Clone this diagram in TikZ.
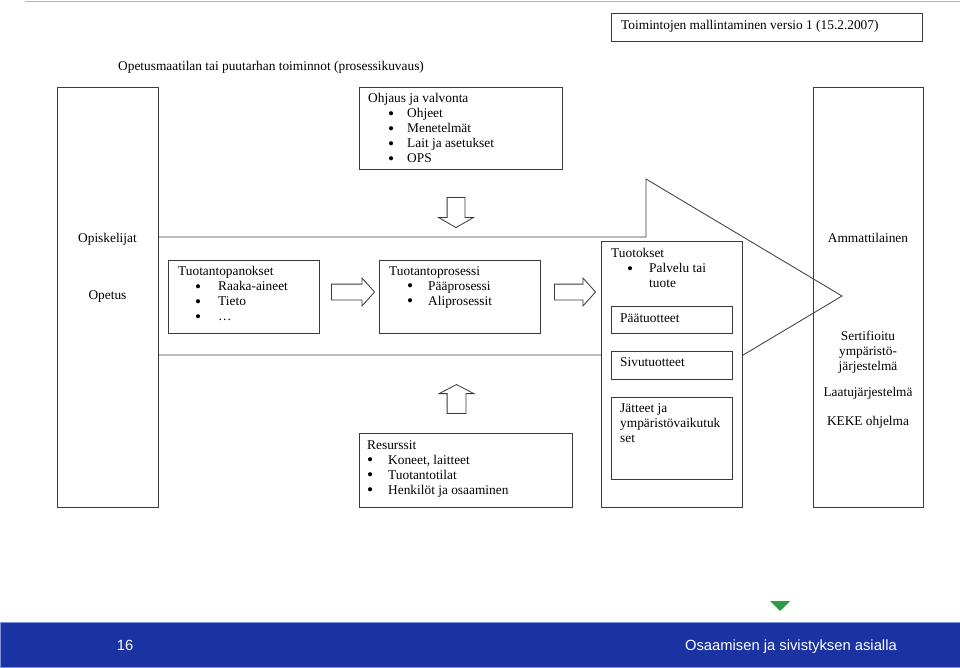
\documentclass[tikz,border=0pt]{standalone}
\usepackage{fontspec}
\setmainfont{Liberation Serif}
\newfontfamily\footfont{Liberation Sans}
\usetikzlibrary{positioning,shapes.arrows}
\definecolor{edge}{HTML}{3A3A3A}
\definecolor{bandblue}{HTML}{1A32A2}
\definecolor{bandline}{HTML}{7F92DA}
\definecolor{greenmark}{HTML}{2E9A44}
\definecolor{rulegrey}{HTML}{B4B4B4}
\newdimen\px \px=0.03cm
% bullet line: gap before bullet, bullet-to-text width, text
\newcommand{\itm}[3]{\hspace*{#1\px}\makebox[#2\px][l]{\raisebox{-0.3ex}[0pt][0pt]{\scalebox{1.3}{\textbullet}}}#3}
\tikzset{
  box/.style={draw=edge,fill=white,line width=0.7pt,inner sep=0pt,anchor=north west},
  txt/.style={font=\fontsize{11.4}{12.8}\selectfont,inner sep=0pt,anchor=base west,align=left},
  list/.style={txt,anchor=north west},
  mid/.style={txt,anchor=base,align=center},
  blk/.style={single arrow,draw=edge,fill=white,line width=0.7pt,inner xsep=0pt},
}

\begin{document}
\begin{tikzpicture}[x=0.03cm,y=-0.03cm]
\useasboundingbox (0,0) rectangle (960,667);
\draw[rulegrey,line width=0.8pt] (25,1.5) -- (960,1.5);
\node[box,minimum width=311\px,minimum height=28\px] (title) at (611,13) {};
\node[txt] (titletxt) at (621,29) {Toimintojen mallintaminen versio 1 (15.2.2007)};
\node[txt] (heading) at (118,70) {Opetusmaatilan tai puutarhan toiminnot (prosessikuvaus)};
% the big process arrow
\draw[edge,line width=0.7pt] (158,237) -- (646,237) -- (646,179) -- (842,296)
  -- (646,413) -- (646,355) -- (158,355);
\node[box,minimum width=101\px,minimum height=420\px] (opisk) at (57,87) {};
\node[mid] (opisktxt) at (107.5,242) {Opiskelijat};
\node[mid] (opetus) at (107.5,299) {Opetus};
\node[box,fill=none,minimum width=110\px,minimum height=420\px] (ammat) at (813,87) {};
\node[mid] (ammattxt) at (868,242) {Ammattilainen};
\node[mid,anchor=north] (sert) at (868,331) {Sertifioitu\\ympäristö-\\järjestelmä};
\node[mid] (laatu) at (868,396) {Laatujärjestelmä};
\node[mid] (keke) at (868,425) {KEKE ohjelma};
\node[box,minimum width=203\px,minimum height=82\px] (ohjaus) at (359,87) {};
\node[list] (ohjaustxt) at (368,93) {Ohjaus ja valvonta\\
  \itm{20}{19}{Ohjeet}\\\itm{20}{19}{Menetelmät}\\
  \itm{20}{19}{Lait ja asetukset}\\\itm{20}{19}{OPS}};
\node[box,minimum width=151\px,minimum height=73\px] (panokset) at (168,260) {};
\node[list] (panoksettxt) at (178,266) {Tuotantopanokset\\
  \itm{17}{23}{Raaka-aineet}\\\itm{17}{23}{Tieto}\\\itm{17}{23}{\dots}};
\node[box,minimum width=161\px,minimum height=73\px] (prosessi) at (379,260) {};
\node[list] (prosessitxt) at (389,266) {Tuotantoprosessi\\
  \itm{18}{21}{Pääprosessi}\\\itm{18}{21}{Aliprosessit}};
\node[box,minimum width=141\px,minimum height=266\px] (tuotokset) at (601,241) {};
\node[list] (tuotoksettxt) at (611,248) {Tuotokset\\
  \itm{16}{22}{Palvelu tai}\\\hspace*{38\px}tuote};
\node[box,minimum width=121\px,minimum height=27\px] (paatuot) at (611,306) {};
\node[txt] (paatuottxt) at (620,322) {Päätuotteet};
\node[box,minimum width=121\px,minimum height=28\px] (sivutuot) at (611,351) {};
\node[txt] (sivutuottxt) at (620,366) {Sivutuotteet};
\node[box,minimum width=121\px,minimum height=82\px] (jatteet) at (611,397) {};
\node[list] (jatteettxt) at (620,403) {Jätteet ja\\ympäristövaikutuk\\set};
\node[box,minimum width=213\px,minimum height=74\px] (resurssit) at (359,433) {};
\node[list] (resurssittxt) at (367,440) {Resurssit\\
  \itm{0}{21}{Koneet, laitteet}\\\itm{0}{21}{Tuotantotilat}\\
  \itm{0}{21}{Henkilöt ja osaaminen}};
% block arrows
\node[blk,minimum height=30\px,inner ysep=8.5\px,single arrow head extend=8.5\px,
  single arrow tip angle=120,rotate=-90] (ohjnuoli) at (456,210) {};
\node[blk,minimum height=43\px,inner ysep=7.5\px,single arrow head extend=6\px,
  single arrow tip angle=96] (nuoli1) at (349.5,292) {};
\node[blk,minimum height=41\px,inner ysep=7.5\px,single arrow head extend=6\px,
  single arrow tip angle=96] (nuoli2) at (571.5,292) {};
\node[blk,minimum height=29\px,inner ysep=9\px,single arrow head extend=8\px,
  single arrow tip angle=125,rotate=90] (resnuoli) at (456.5,401.5) {};
% footer
\fill[greenmark] (770,601) -- (790,601) -- (780,611) -- cycle;
\node[box,fill=bandblue,draw=bandline,line width=0.8pt,minimum width=960\px,minimum height=45\px]
  (footer) at (0,621.5) {};
\node[font=\footfont\fontsize{12.6}{14}\selectfont,text=white,inner sep=0pt,anchor=base]
  (sivu) at (125,650) {16};
\node[font=\footfont\fontsize{12.6}{14}\selectfont,text=white,inner sep=0pt,anchor=base east]
  (motto) at (897,650) {Osaamisen ja sivistyksen asialla};
\end{tikzpicture}
\end{document}
